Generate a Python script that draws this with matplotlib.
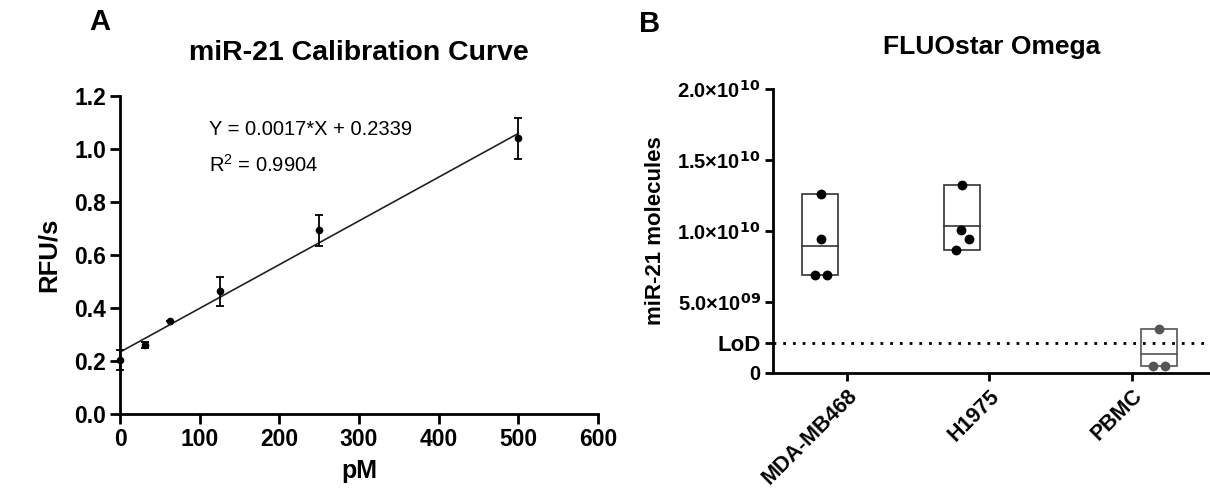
import numpy as np
import matplotlib.pyplot as plt

plt.rcParams['font.family'] = ['Liberation Sans', 'DejaVu Sans']
plt.rcParams['mathtext.default'] = 'bf'

# panel A - calibration data
conc_pm = [0, 31.25, 62.5, 125, 250, 500]
rfu = [0.204, 0.260, 0.353, 0.464, 0.693, 1.040]
rfu_err = [0.037, 0.010, 0.0, 0.055, 0.058, 0.076]
fit_slope = 0.00165
fit_intercept = 0.2339
fit_range = [0, 500]

# panel B - miR-21 molecules per sample
groups = ['MDA-MB468', 'H1975', 'PBMC']
mda_vals = [1.26e10, 0.941e10, 0.69e10, 0.69e10]
h1975_vals = [1.324e10, 1.006e10, 0.941e10, 0.866e10]
pbmc_vals = [0.309e10, 0.049e10, 0.049e10]
mda_jitter = [0.005, 0.005, -0.037, 0.045]
h1975_jitter = [-0.003, -0.008, 0.045, -0.042]
pbmc_jitter = [0.003, -0.042, 0.042]
box_shift = [-0.19, -0.19, 0.19]
lod = 2.1e9
ytick_vals = [0, lod, 5e9, 1e10, 1.5e10, 2e10]
ytick_labels = ['0', 'LoD', '5.0×10$^{09}$', '1.0×10$^{10}$',
                '1.5×10$^{10}$', '2.0×10$^{10}$']

fig = plt.figure(figsize=(12.1, 4.9), dpi=100)

# ---- panel A ----
ax1 = fig.add_axes([0.0992, 0.155, 0.395, 0.649])
ax1.errorbar(conc_pm, rfu, yerr=rfu_err, fmt='o', color='black', ms=4.5,
             capsize=3, elinewidth=1.3, capthick=1.3, clip_on=False, zorder=3)
xf = np.array(fit_range)
ax1.plot(xf, fit_slope * xf + fit_intercept, color='#222222', lw=1.2)
ax1.set_xlim(0, 600)
ax1.set_ylim(0, 1.2)
ax1.set_xticks(range(0, 601, 100))
ax1.set_yticks(np.arange(0, 1.21, 0.2))
ax1.set_yticklabels(['%.1f' % v for v in np.arange(0, 1.21, 0.2)])
for s in ['top', 'right']:
    ax1.spines[s].set_visible(False)
for s in ['left', 'bottom']:
    ax1.spines[s].set_linewidth(2)
ax1.tick_params(width=2, length=7, labelsize=16.5, pad=3)
for lab in ax1.get_xticklabels() + ax1.get_yticklabels():
    lab.set_fontweight('bold')
ax1.set_xlabel('pM', fontsize=18, fontweight='bold', labelpad=6)
ax1.set_ylabel('RFU/s', fontsize=18.5, fontweight='bold', labelpad=10)
ax1.set_title('miR-21 Calibration Curve', fontsize=20.5, fontweight='bold', pad=26)
ax1.text(112, 1.075, 'Y = 0.0017*X + 0.2339', fontsize=14.5, va='center')
ax1.text(112, 0.94, 'R$^{\\mathregular{2}}$ = 0.9904', fontsize=14.5, va='center')
fig.text(0.0826, 0.955, 'A', fontsize=21, fontweight='bold', ha='center', va='center')

# ---- panel B ----
ax2 = fig.add_axes([0.639, 0.239, 0.361, 0.579])
all_vals = [mda_vals, h1975_vals, pbmc_vals]
all_jit = [mda_jitter, h1975_jitter, pbmc_jitter]
colors = ['black', 'black', '#555555']
edges = ['#333333', '#333333', '#555555']
bw = 0.253
for i, vals in enumerate(all_vals):
    cx = i + box_shift[i]
    lo, hi, mean = min(vals), max(vals), np.mean(vals)
    ax2.add_patch(plt.Rectangle((cx - bw / 2, lo), bw, hi - lo, fill=False,
                                edgecolor=edges[i], lw=1.2, zorder=2))
    ax2.plot([cx - bw / 2, cx + bw / 2], [mean, mean], color=edges[i], lw=1.2, zorder=2)
    ax2.scatter([cx + j for j in all_jit[i]], vals, s=50, color=colors[i],
                zorder=3, linewidths=0)
ax2.axhline(lod, color='black', ls=(0, (1, 2.5)), lw=2, zorder=1)
ax2.set_xlim(-0.52, 2.55)
ax2.set_ylim(0, 2e10)
ax2.set_xticks(range(len(groups)))
ax2.set_xticklabels(groups, rotation=45, ha='right', rotation_mode='anchor',
                    fontsize=15.5, fontweight='bold')
ax2.set_yticks(ytick_vals)
ax2.set_yticklabels(ytick_labels, fontsize=14.5, fontweight='bold')
ax2.get_yticklabels()[1].set_fontsize(16)
for s in ['top', 'right']:
    ax2.spines[s].set_visible(False)
for s in ['left', 'bottom']:
    ax2.spines[s].set_linewidth(2)
ax2.tick_params(width=2, length=6, pad=3)
ax2.set_ylabel('miR-21 molecules', fontsize=16, fontweight='bold', labelpad=8)
ax2.set_title('FLUOstar Omega', fontsize=19, fontweight='bold', pad=25)
fig.text(0.537, 0.951, 'B', fontsize=21, fontweight='bold', ha='center', va='center')

fig.savefig('out.png', dpi=100)
